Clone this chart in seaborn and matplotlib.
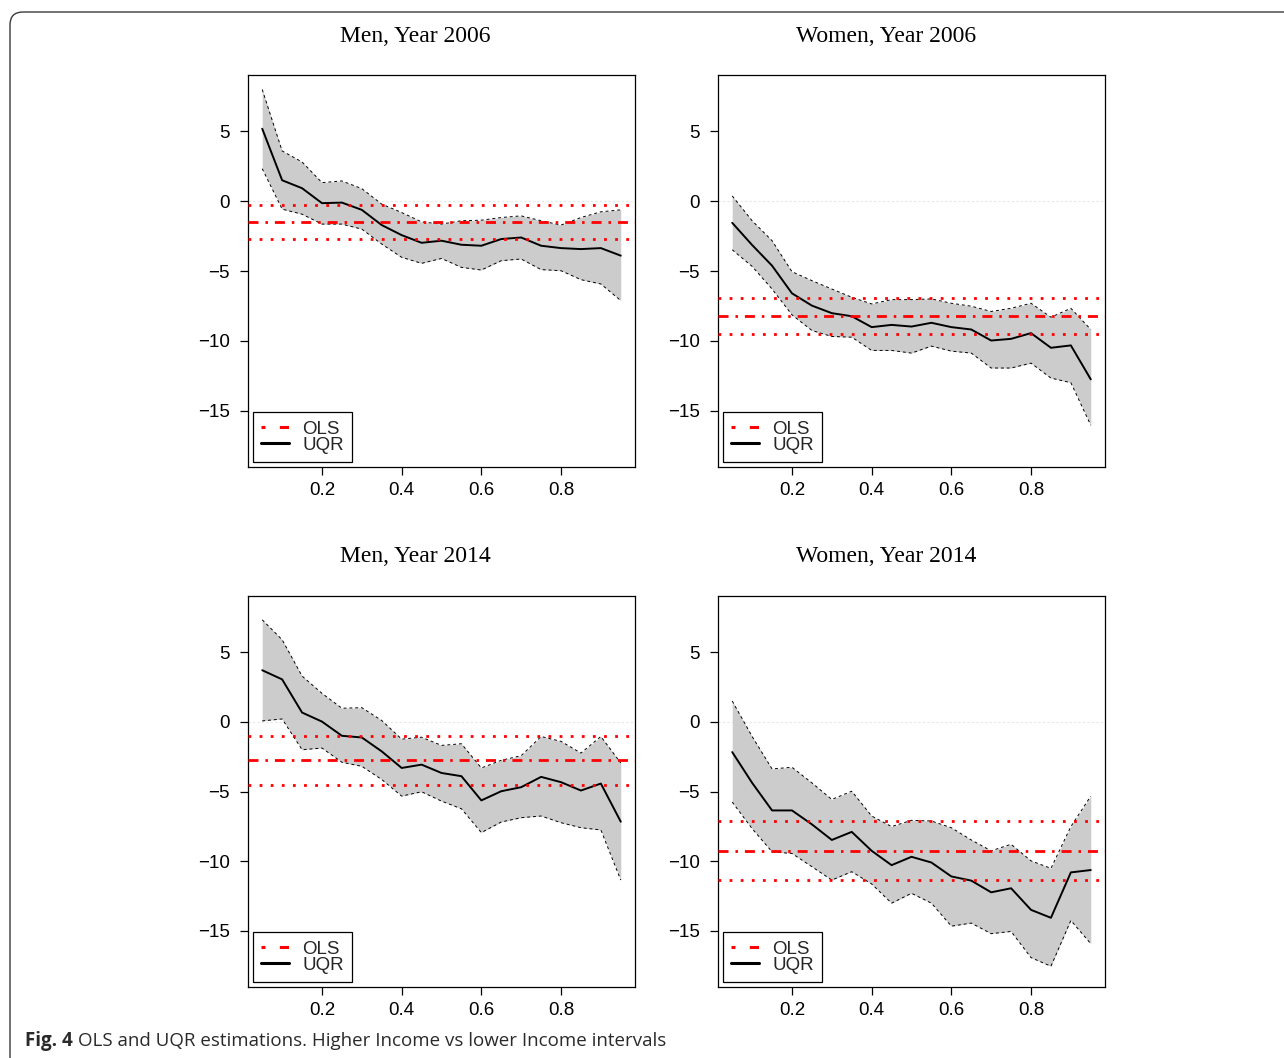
import numpy as np
import pandas as pd
import matplotlib
matplotlib.use("Agg")
import matplotlib.pyplot as plt
import seaborn as sns
from matplotlib.patches import FancyBboxPatch
from matplotlib.lines import Line2D

# ---------------- data ----------------
quantiles = [0.05, 0.10, 0.15, 0.20, 0.25, 0.30, 0.35, 0.40, 0.45, 0.50,
             0.55, 0.60, 0.65, 0.70, 0.75, 0.80, 0.85, 0.90, 0.95]

titles = ["Men, Year 2006", "Women, Year 2006", "Men, Year 2014", "Women, Year 2014"]

men06_uqr = [5.19, 1.50, 0.93, -0.14, -0.10, -0.62, -1.71, -2.43, -2.98, -2.83,
             -3.12, -3.19, -2.71, -2.60, -3.19, -3.36, -3.43, -3.36, -3.90]
men06_upper = [8.0, 3.6, 2.81, 1.33, 1.45, 0.90, -0.21, -0.81, -1.48, -1.64,
               -1.40, -1.36, -1.17, -1.05, -1.40, -1.71, -1.17, -0.76, -0.62]
men06_lower = [2.33, -0.57, -0.93, -1.64, -1.64, -2.0, -3.07, -4.02, -4.45, -4.10,
               -4.74, -4.93, -4.26, -4.14, -4.90, -4.98, -5.62, -5.93, -7.12]
men06_ols = [-1.48, -0.24, -2.74]  # estimate, upper, lower

women06_uqr = [-1.55, -3.14, -4.62, -6.60, -7.48, -8.02, -8.24, -9.02, -8.86, -8.98,
               -8.71, -9.02, -9.19, -9.98, -9.86, -9.45, -10.50, -10.33, -12.76]
women06_upper = [0.38, -1.40, -2.83, -5.05, -5.69, -6.29, -6.88, -7.36, -7.05, -7.05,
                 -7.00, -7.31, -7.52, -7.90, -7.67, -7.31, -8.31, -7.67, -9.19]
women06_lower = [-3.48, -4.67, -6.29, -8.14, -9.26, -9.69, -9.74, -10.69, -10.69, -10.88,
                 -10.38, -10.74, -10.88, -11.95, -11.95, -11.60, -12.67, -13.00, -16.05]
women06_ols = [-8.19, -6.90, -9.48]

men14_uqr = [3.71, 3.05, 0.67, 0.02, -1.00, -1.12, -2.12, -3.31, -3.07, -3.67,
             -3.90, -5.64, -4.98, -4.69, -3.95, -4.33, -4.93, -4.43, -7.17]
men14_upper = [7.33, 5.90, 3.29, 2.05, 0.98, 1.02, 0.10, -1.24, -1.10, -1.69,
               -1.57, -3.31, -2.76, -2.43, -1.05, -1.40, -2.24, -1.05, -2.95]
men14_lower = [0.07, 0.21, -2.00, -1.88, -2.90, -3.19, -4.14, -5.33, -5.02, -5.69,
               -6.24, -7.95, -7.19, -6.88, -6.76, -7.24, -7.60, -7.76, -11.36]
men14_ols = [-2.74, -1.00, -4.50]

women14_uqr = [-2.17, -4.38, -6.36, -6.36, -7.36, -8.48, -7.90, -9.26, -10.29, -9.69,
               -10.10, -11.10, -11.40, -12.24, -11.95, -13.50, -14.07, -10.81, -10.64]
women14_upper = [1.50, -1.05, -3.38, -3.26, -4.38, -5.57, -4.98, -6.76, -7.52, -7.07,
                 -7.12, -7.60, -8.48, -9.26, -8.79, -9.98, -10.52, -7.52, -5.33]
women14_lower = [-5.76, -7.67, -9.33, -9.45, -10.40, -11.36, -10.76, -11.64, -13.02, -12.31,
                 -13.02, -14.67, -14.45, -15.21, -15.05, -16.93, -17.55, -14.26, -15.93]
women14_ols = [-9.26, -7.10, -11.38]

yticks = [5, 0, -5, -10, -15]
ytick_labels = ["5", "0", "\u22125", "\u221210", "\u221215"]
xticks = [0.2, 0.4, 0.6, 0.8]
xtick_labels = ["0.2", "0.4", "0.6", "0.8"]

panels = [
    (men06_uqr, men06_upper, men06_lower, men06_ols),
    (women06_uqr, women06_upper, women06_lower, women06_ols),
    (men14_uqr, men14_upper, men14_lower, men14_ols),
    (women14_uqr, women14_upper, women14_lower, women14_ols),
]

# ---------------- style ----------------
sns.set_theme(style="ticks")
plt.rcParams["font.family"] = ["Liberation Sans", "DejaVu Sans"]

W, H = 1284, 1058
fig = plt.figure(figsize=(W / 100, H / 100), dpi=100)
fig.patch.set_facecolor("white")

# rounded frame
frame = FancyBboxPatch((0.10, -1.0), 14.0, (H - 12) / 100 + 1.0,
                       boxstyle="round,pad=0,rounding_size=0.13",
                       transform=fig.dpi_scale_trans, fill=False,
                       edgecolor="#3a3a3a", linewidth=1.0, clip_on=False)
fig.patches.append(frame)

# axes boxes in pixels: (left, top, width, height)
boxes = [(248, 75, 387, 392), (718, 75, 387, 392),
         (248, 596, 387, 391), (718, 596, 387, 391)]
title_pos = [(415, 36), (886, 36), (415, 556), (886, 556)]

ols_dash = (0, (3.6, 2.5, 0.9, 2.5))
ols_dot = (0, (1.0, 3.0))

for (uqr, upper, lower, ols), (l, t, w, h), (tx, ty), title in zip(panels, boxes, title_pos, titles):
    ax = fig.add_axes([l / W, 1 - (t + h) / H, w / W, h / H])
    df = pd.DataFrame({"q": quantiles, "uqr": uqr, "upper": upper, "lower": lower})

    ax.fill_between(df["q"], df["lower"], df["upper"], color="#cccccc", linewidth=0, zorder=1)
    ax.axhline(0, color="#e6e6e6", linestyle=(0, (2, 2)), linewidth=0.8, zorder=0.5)
    sns.lineplot(data=df, x="q", y="upper", ax=ax, color="black", linewidth=0.7,
                 linestyle=(0, (3, 3)), zorder=2)
    sns.lineplot(data=df, x="q", y="lower", ax=ax, color="black", linewidth=0.7,
                 linestyle=(0, (3, 3)), zorder=2)
    sns.lineplot(data=df, x="q", y="uqr", ax=ax, color="black", linewidth=1.4, zorder=3)

    ax.axhline(ols[0], color="red", linewidth=2.0, linestyle=ols_dash, zorder=4)
    ax.axhline(ols[1], color="red", linewidth=2.0, linestyle=ols_dot, zorder=4)
    ax.axhline(ols[2], color="red", linewidth=2.0, linestyle=ols_dot, zorder=4)

    ax.set_xlim(0.0143, 0.9857)
    ax.set_ylim(-19.04, 9.04)
    ax.set_xticks(xticks)
    ax.set_xticklabels(xtick_labels)
    ax.set_yticks(yticks)
    ax.set_yticklabels(ytick_labels)
    ax.set_xlabel("")
    ax.set_ylabel("")
    ax.tick_params(axis="both", direction="out", length=6, width=0.9, color="black",
                   labelsize=13.5, labelcolor="black")
    ax.tick_params(axis="x", pad=5)
    ax.tick_params(axis="y", pad=7)
    for sp in ax.spines.values():
        sp.set_visible(True)
        sp.set_color("black")
        sp.set_linewidth(0.9)
    ax.set_facecolor("white")

    handles = [Line2D([], [], color="red", linewidth=2.2, linestyle=(0, (1.3, 4.7, 3.0, 10))),
               Line2D([], [], color="black", linewidth=2.2)]
    leg = ax.legend(handles, ["OLS", "UQR"], loc="lower left", fontsize=13.5,
                    frameon=True, fancybox=False, framealpha=1, edgecolor="black",
                    borderpad=0.45, labelspacing=-0.05, handlelength=1.5,
                    handletextpad=0.7, borderaxespad=0.25)
    leg.get_frame().set_linewidth(0.9)

    fig.text(tx / W, 1 - ty / H, title, ha="center", va="center",
             family=["Liberation Serif", "DejaVu Serif"], fontsize=17, color="black")

# caption
cap_y = 1 - 1041 / H
t1 = fig.text(25 / W, cap_y, "Fig. 4", ha="left", va="center", fontsize=13.5,
              fontweight="bold", family=["Open Sans", "DejaVu Sans"], color="#2a2a2a")
fig.canvas.draw()
bb = t1.get_window_extent(renderer=fig.canvas.get_renderer())
fig.text((bb.x1 + 5) / W, cap_y, "OLS and UQR estimations. Higher Income vs lower Income intervals",
         ha="left", va="center", fontsize=13.5, family=["Open Sans", "DejaVu Sans"],
         color="#2a2a2a")

fig.savefig("out.png", dpi=100, facecolor="white")
